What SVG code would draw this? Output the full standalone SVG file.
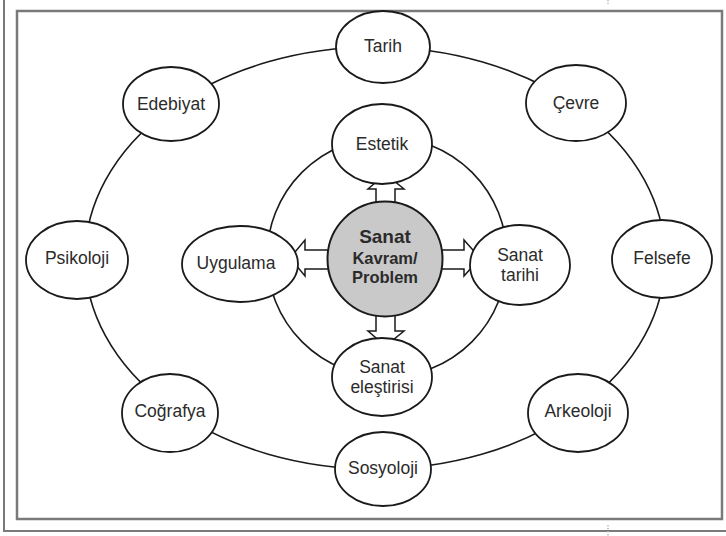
<svg xmlns="http://www.w3.org/2000/svg" width="726" height="536" viewBox="0 0 726 536">
<style>
.frame{fill:none;stroke:#7a7a7a;stroke-width:2.5}
.ring{fill:none;stroke:#1a1a1a;stroke-width:1.6}
.arrow{fill:#fff;stroke:#1a1a1a;stroke-width:1.5;stroke-linejoin:miter}
.node{fill:#fff;stroke:#1a1a1a;stroke-width:1.8}
.core{fill:#c9c9c9;stroke:#1a1a1a;stroke-width:2}
.t{font-family:"Liberation Sans",Arial,sans-serif;font-size:17.5px;fill:#2b2b2b;text-anchor:middle}
.b{font-family:"Liberation Sans",Arial,sans-serif;font-weight:bold;fill:#2b2b2b;text-anchor:middle}
</style>
<rect width="726" height="536" fill="#fff"/>
<g id="frame">
<polyline points="4,0 4,531 726,531" fill="none" stroke="#7a7a7a" stroke-width="2"/>
<rect class="frame" x="17" y="11" width="705" height="508"/>
<line x1="608" y1="0" x2="608" y2="4" stroke="#bbb" stroke-width="1.5" stroke-dasharray="1.5,1.5"/>
<line x1="608" y1="525" x2="608" y2="536" stroke="#bbb" stroke-width="1.5" stroke-dasharray="1.5,1.5"/>
</g>
<g id="connectors">
<ellipse class="ring" cx="375" cy="258" rx="290" ry="211"/>
<ellipse class="ring" cx="387" cy="257" rx="120" ry="120"/>
<polygon class="arrow" points="376,210 376,189 368,189 385.5,174 404,189 395,189 395,210"/>
<polygon class="arrow" points="376,308 376,331 368,331 385.5,346 404,331 395,331 395,308"/>
<polygon class="arrow" points="335,250 305,250 305,240 290,258 305,276 305,269 335,269"/>
<polygon class="arrow" points="435,250 464,250 464,240 480,258 464,276 464,269 435,269"/>
</g>
<g id="n-tarih"><ellipse class="node" cx="383" cy="47" rx="47" ry="36"/><text class="t" x="383" y="52">Tarih</text></g>
<g id="n-edebiyat"><ellipse class="node" cx="171" cy="104" rx="48" ry="37"/><text class="t" x="171" y="110">Edebiyat</text></g>
<g id="n-cevre"><ellipse class="node" cx="576" cy="103" rx="50" ry="38"/><text class="t" x="576" y="109">Çevre</text></g>
<g id="n-estetik"><ellipse class="node" cx="382" cy="144" rx="50" ry="40"/><text class="t" x="382" y="150">Estetik</text></g>
<g id="n-psikoloji"><ellipse class="node" cx="77" cy="260" rx="51" ry="39"/><text class="t" x="77" y="264">Psikoloji</text></g>
<g id="n-uygulama"><ellipse class="node" cx="240" cy="264" rx="58" ry="38"/><text class="t" x="236" y="269">Uygulama</text></g>
<g id="n-merkez"><circle class="core" cx="385" cy="259" r="57.5"/>
<text class="b" x="385" y="243" font-size="19">Sanat</text>
<text class="b" x="385" y="264" font-size="16.5">Kavram/</text>
<text class="b" x="385" y="283" font-size="16.5">Problem</text></g>
<g id="n-sanattarihi"><ellipse class="node" cx="520" cy="265" rx="50" ry="40"/><text class="t" x="520" y="261">Sanat</text><text class="t" x="520" y="281">tarihi</text></g>
<g id="n-felsefe"><ellipse class="node" cx="662" cy="259" rx="50" ry="39"/><text class="t" x="662" y="264">Felsefe</text></g>
<g id="n-elestiri"><ellipse class="node" cx="382" cy="377" rx="50" ry="39"/><text class="t" x="382" y="373">Sanat</text><text class="t" x="382" y="393">eleştirisi</text></g>
<g id="n-cografya"><ellipse class="node" cx="170" cy="413" rx="48" ry="39"/><text class="t" x="170" y="417">Coğrafya</text></g>
<g id="n-arkeoloji"><ellipse class="node" cx="578" cy="413" rx="50" ry="39"/><text class="t" x="578" y="417">Arkeoloji</text></g>
<g id="n-sosyoloji"><ellipse class="node" cx="383" cy="469" rx="48" ry="37"/><text class="t" x="383" y="474">Sosyoloji</text></g>
</svg>
